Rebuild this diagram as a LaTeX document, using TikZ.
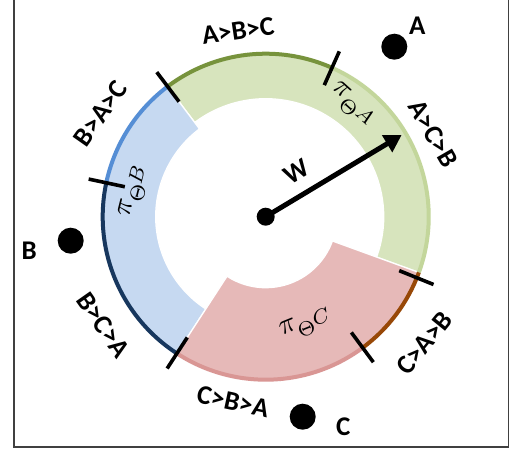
\RequirePackage{fix-cm}
\documentclass[tikz,border=0pt]{standalone}
\usepackage{fontspec}
\setmainfont{Carlito}
\usetikzlibrary{arrows.meta}

\definecolor{greenfill}{HTML}{D7E4BD}
\definecolor{greendark}{HTML}{77933C}
\definecolor{greenlight}{HTML}{C3D69B}
\definecolor{bluefill}{HTML}{C6D9F1}
\definecolor{bluemid}{HTML}{558ED5}
\definecolor{bluenavy}{HTML}{17375E}
\definecolor{redfill}{HTML}{E6B9B8}
\definecolor{redrim}{HTML}{D99694}
\definecolor{brownrim}{HTML}{984807}
\definecolor{framegray}{HTML}{404040}

\tikzset{
  sector/.style={draw=white, line width=1.3pt},
  rim/.style={line width=4pt},
  tick/.style={draw=black, line width=3.6pt},
  rank/.style={font=\bfseries\fontsize{27}{27}\selectfont, inner sep=0pt},
  share/.style={scale=2.9, inner sep=0pt},
  cand/.style={circle, fill=black, minimum size=26pt, inner sep=0pt},
}

\begin{document}
\begin{tikzpicture}[x=1pt, y=1pt]
\useasboundingbox (0,0) rectangle (514,453);

% open frame (top edge lies outside the picture)
\draw[framegray, line width=1.8pt] (14,460) -- (14,6.3) -- (508.5,6.3) -- (508.5,460);

\begin{scope}[shift={(265.7,236.3)}]
  \coordinate (O) at (0,0);

  % ring sectors
  \fill[greenfill, sector] (-20:118) arc[start angle=-20, end angle=127, radius=118]
      -- (127:165) arc[start angle=127, end angle=-20, radius=165] -- cycle;
  \fill[bluefill, sector] (127:110) arc[start angle=127, end angle=237, radius=110]
      -- (237:165) arc[start angle=237, end angle=127, radius=165] -- cycle;
  \fill[redfill, sector] (237:71) arc[start angle=237, end angle=340, radius=71]
      -- (340:165) arc[start angle=340, end angle=237, radius=165] -- cycle;

  % coloured rim
  \draw[rim, greenlight] (-20:163) arc[start angle=-20, end angle=66, radius=163];
  \draw[rim, greendark]  (66:163) arc[start angle=66, end angle=127, radius=163];
  \draw[rim, bluemid]    (127:163) arc[start angle=127, end angle=168, radius=163];
  \draw[rim, bluenavy]   (168:163) arc[start angle=168, end angle=237, radius=163];
  \draw[rim, redrim]     (237:163) arc[start angle=237, end angle=306.5, radius=163];
  \draw[rim, brownrim]   (306.5:163) arc[start angle=306.5, end angle=340, radius=163];

  % boundary ticks
  \foreach \a in {127, 66, 168, 237, -22, 306.5}
    \draw[tick] (\a:144) -- (\a:181);

  % ranking labels
  \node[rank, rotate=8.5]  (abc) at (98.5:188) {A>B>C};
  \node[rank, rotate=55]   (bac) at (148:195)  {B>A>C};
  \node[rank, rotate=-60]  (acb) at (26.4:187) {A>C>B};
  \node[rank, rotate=-55]  (bca) at (213.7:195) {B>C>A};
  \node[rank, rotate=51]   (cab) at (-38.5:203) {C>A>B};
  \node[rank, rotate=-12]  (cba) at (260:188)  {C>B>A};

  % region labels
  \node[share, rotate=-42] (pa) at (52:141)   {$\pi_{\Theta^{\scriptstyle A}}$};
  \node[share, rotate=76]  (pb) at (168.6:134) {$\pi_{\Theta^{\scriptstyle B}}$};
  \node[share, rotate=22]  (pc) at (-69:115)  {$\pi_{\Theta^{\scriptstyle C}}$};

  % weight vector
  \coordinate (tip) at (31:158.6);
  \node[circle, fill=black, minimum size=18pt, inner sep=0pt] (hub) at (O) {};
  \draw[line width=5pt, -{Triangle[length=17pt, width=19pt]}] (O) -- (tip);
  \node[rank, rotate=31] (w) at (31,45) {W};
\end{scope}

% candidates
\node[cand] (A) at (394.3,406.3) {};
\node[cand] (B) at (70.7,212.3) {};
\node[cand] (C) at (302.7,36.3) {};
\node[rank] (Alab) at (417.3,427) {A};
\node[rank] (Blab) at (29.3,202.3) {B};
\node[rank] (Clab) at (343.3,26.3) {C};
\end{tikzpicture}
\end{document}
